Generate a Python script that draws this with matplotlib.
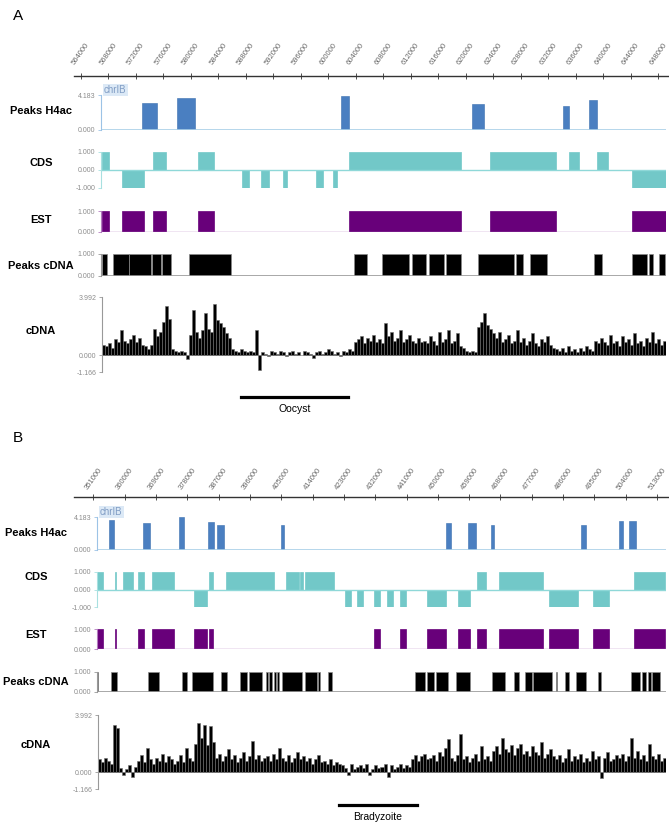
import matplotlib
matplotlib.use('Agg')
import matplotlib.pyplot as plt
import numpy as np
from matplotlib.lines import Line2D

plt.rcParams['font.family'] = ['Liberation Sans', 'DejaVu Sans']

W, H = 669, 826

# ---------------- panel A (oocyst locus) ----------------
a_ticks = list(range(564000, 648001, 4000))
a_h4ac = [(572900, 575150, 3.26), (578050, 580630, 3.79), (601830, 603090, 4.10),
          (620990, 622650, 3.07), (634230, 635060, 2.90), (637970, 639090, 3.59)]
a_cds_plus = [(567056, 568118), (574477, 576457), (581070, 583441), (603043, 619298),
              (623518, 633166), (635014, 636469), (639088, 640776)]
a_cds_minus = [(570010, 573255), (587429, 588491), (590237, 591445), (593395, 594064),
               (598197, 599260), (600758, 601340), (644225, 649171)]
a_est = [(567056, 568118), (570010, 573255), (574477, 576457), (581070, 583441),
         (603043, 619298), (623518, 633166), (644225, 649171)]
a_peaks_cdna = [(567056, 567784), (568744, 571029), (571029, 574186), (574332, 575685),
                (575831, 577184), (579803, 585872), (603814, 605706), (607802, 611818),
                (612254, 614204), (614685, 616911), (617202, 619298), (621771, 627010),
                (627389, 628320), (629382, 631900), (638739, 639903), (644182, 646408),
                (646655, 647325), (648154, 649071)]
a_cdna = [0.7, 0.6, 0.8, 0.5, 1.1, 0.9, 1.7, 1.0, 0.8, 1.1,
          1.4, 0.9, 1.2, 0.7, 0.6, 0.4, 0.7, 1.8, 1.3, 1.6,
          2.3, 3.4, 2.5, 0.4, 0.3, 0.2, 0.3, 0.2, -0.3, 1.4,
          3.1, 1.6, 1.2, 1.7, 2.9, 1.8, 1.6, 3.5, 2.4, 2.2,
          1.9, 1.5, 1.2, 0.4, 0.3, 0.2, 0.4, 0.3, 0.2, 0.3,
          0.2, 1.7, -1.0, 0.2, 0.1, -0.1, 0.3, 0.2, 0.1, 0.3,
          0.2, -0.1, 0.2, 0.3, 0.1, 0.2, 0.0, 0.3, 0.2, 0.1,
          -0.2, 0.2, 0.3, 0.1, 0.2, 0.4, 0.3, 0.1, 0.2, -0.1,
          0.3, 0.2, 0.4, 0.3, 0.9, 1.1, 1.3, 0.8, 1.2, 1.0,
          1.4, 0.9, 1.1, 0.8, 2.2, 1.3, 1.6, 1.0, 1.2, 1.7,
          0.9, 1.1, 1.4, 1.0, 0.8, 1.2, 0.9, 1.0, 0.8, 1.3,
          1.0, 0.7, 1.6, 0.9, 1.1, 1.7, 0.8, 1.0, 1.5, 0.6,
          0.5, 0.3, 0.2, 0.3, 0.2, 1.9, 2.3, 2.9, 2.1, 1.8,
          1.5, 1.2, 1.6, 0.9, 1.1, 1.4, 0.8, 1.0, 1.7, 0.9,
          1.2, 0.7, 1.0, 1.5, 0.8, 0.6, 1.1, 0.9, 1.3, 0.7,
          0.5, 0.4, 0.3, 0.5, 0.2, 0.6, 0.3, 0.4, 0.2, 0.5,
          0.3, 0.6, 0.4, 0.3, 1.0, 0.8, 1.2, 0.9, 0.7, 1.4,
          0.8, 1.0, 0.6, 1.3, 0.9, 1.1, 0.7, 1.5, 0.8, 1.0,
          0.6, 1.2, 0.9, 1.6, 0.8, 1.1, 0.7, 1.0]
a_stage = (587330, 602900, 'Oocyst')

# ---------------- panel B (bradyzoite locus) ----------------
b_ticks = list(range(351000, 513001, 9000))
b_h4ac = [(355396, 356976, 3.80), (365308, 367175, 3.38), (375564, 377173, 4.18),
          (383982, 385792, 3.59), (386568, 388579, 3.21), (404811, 405817, 3.21),
          (452359, 453882, 3.38), (458536, 460978, 3.38), (465202, 466150, 3.21),
          (491260, 492696, 3.21), (502120, 503269, 3.64), (504935, 506803, 3.64)]
b_cds_plus = [(351804, 353902), (357177, 357550), (359562, 362521), (363785, 365509),
              (367893, 374214), (384356, 385419), (389067, 402944), (406305, 410126),
              (410500, 411361), (411850, 420096), (461266, 463938), (467586, 480141),
              (506458, 515364)]
b_cds_minus = [(379960, 383609), (423342, 424980), (426876, 428600), (431588, 433398),
               (435409, 437219), (439144, 440954), (446901, 452359), (455721, 459168),
               (481951, 490197), (494679, 499103)]
b_est = [(351804, 353902), (357177, 357550), (363785, 365509), (367893, 374214),
         (379960, 383609), (384356, 385419), (431588, 433398), (439144, 440954),
         (446901, 452359), (455721, 459168), (461266, 463938), (467586, 480141),
         (481951, 490197), (494679, 499103), (506458, 515364)]
b_peaks_cdna = [(351804, 352465), (356114, 357838), (366658, 369991), (376598, 378035),
                (379299, 385332), (387803, 389441), (393176, 395273), (395675, 399496),
                (400559, 401134), (401594, 402283), (402858, 403432), (403806, 404294),
                (405156, 410902), (411764, 415212), (415671, 416160), (418544, 419608),
                (443453, 446326), (446987, 448998), (449486, 453020), (455232, 459255),
                (465490, 469310), (471810, 473246), (474970, 476981), (477268, 482899),
                (483962, 484250), (486548, 487611), (489622, 492668), (496029, 496891),
                (505510, 508096), (508584, 509819), (510308, 511170), (511543, 513842)]
b_cdna = [0.9, 0.7, 1.0, 0.8, 0.6, 3.3, 3.1, 0.3, -0.2, 0.2,
          0.5, -0.3, 0.4, 0.8, 1.2, 0.7, 1.7, 0.9, 0.6, 1.0,
          0.8, 1.3, 0.7, 1.1, 0.9, 0.6, 0.8, 1.2, 0.7, 1.7,
          1.0, 0.8, 2.0, 3.4, 2.4, 3.3, 1.9, 3.2, 2.1, 1.0,
          1.3, 0.8, 1.1, 1.6, 0.9, 1.2, 0.7, 1.0, 1.4, 0.8,
          1.1, 2.2, 0.9, 1.2, 0.8, 1.0, 1.1, 0.8, 1.3, 0.9,
          1.7, 1.0, 0.8, 1.2, 0.7, 1.0, 1.4, 0.9, 1.1, 0.8,
          1.0, 0.6, 0.9, 1.2, 0.7, 0.8, 0.6, 0.9, 0.5, 0.7,
          0.6, 0.5, 0.3, -0.2, 0.6, 0.2, 0.4, 0.5, 0.3, 0.6,
          -0.2, 0.2, 0.5, 0.3, 0.4, 0.6, -0.3, 0.5, 0.2, 0.4,
          0.6, 0.3, 0.5, 0.4, 0.9, 1.2, 0.8, 1.1, 1.3, 0.9,
          1.0, 1.2, 0.8, 1.4, 1.1, 1.7, 2.3, 1.0, 0.8, 1.2,
          2.7, 0.9, 1.1, 0.7, 1.0, 1.3, 0.8, 1.8, 0.9, 1.1,
          0.8, 1.5, 1.8, 1.3, 2.4, 1.6, 1.4, 1.9, 1.2, 1.7,
          2.0, 1.3, 1.5, 1.1, 1.8, 1.4, 1.2, 2.1, 1.0, 1.3,
          1.6, 1.1, 0.9, 1.2, 0.7, 1.0, 1.6, 0.8, 1.1, 0.9,
          1.3, 0.7, 1.0, 0.8, 1.5, 0.9, 1.1, -0.4, 1.0, 1.4,
          0.8, 0.9, 1.2, 1.0, 1.3, 0.8, 1.1, 2.4, 1.0, 1.5,
          0.9, 1.2, 0.8, 2.0, 1.1, 0.9, 1.3, 0.8, 1.0]
b_stage = (421620, 444030, 'Bradyzoite')

h4ac_max = 4.183
cdna_max = 3.992
cdna_min = -1.166

c_h4ac = '#4a7fc1'
c_cds = '#72c8c8'
c_est = '#68007a'

fig = plt.figure(figsize=(W / 100, H / 100), dpi=100)


def add_ax(x0, x1, ytop, ybot):
    ax = fig.add_axes([x0 / W, 1 - ybot / H, (x1 - x0) / W, (ybot - ytop) / H])
    ax.patch.set_alpha(0)
    return ax


def style_track(ax, xlim, ylo, yhi, ticks, spine_col):
    ax.set_xlim(*xlim)
    ax.set_ylim(ylo, yhi)
    for s in ['top', 'right', 'bottom']:
        ax.spines[s].set_visible(False)
    ax.spines['left'].set_color(spine_col)
    ax.spines['left'].set_linewidth(0.8)
    ax.set_xticks([])
    ax.set_yticks(ticks)
    ax.set_yticklabels(['%.3f' % t for t in ticks])
    ax.tick_params(axis='y', length=2.5, width=0.6, color=spine_col,
                   labelsize=5, labelcolor='#8c8c8c', pad=1.5)


def blocks(ax, spans, color, lo=0, hi=1, edge=None):
    st = np.array([s[0] for s in spans])
    en = np.array([s[1] for s in spans])
    ax.bar(st, hi - lo, width=en - st, bottom=lo, align='edge', color=color,
           edgecolor=edge if edge else color, linewidth=0.5)


def panel(letter, ly, px0, bp0, ppb, ticks, ruler_y, lab_dy, x0, tr,
          h4ac, cds_p, cds_m, est, pk, cdna, stage, lab_x, lab_y, stage_y):
    to_bp = lambda px: bp0 + (px - px0) / ppb
    to_px = lambda bp: px0 + (bp - bp0) * ppb
    xlim = (to_bp(x0), to_bp(666))

    fig.text(13 / W, 1 - ly / H, letter, fontsize=11, ha='left', va='center')

    # coordinate ruler
    rx0 = 74
    ax = add_ax(rx0, W, ruler_y - 30, ruler_y)
    ax.set_xlim(to_bp(rx0), to_bp(W))
    ax.set_ylim(0, 1)
    for s in ['top', 'right', 'left']:
        ax.spines[s].set_visible(False)
    ax.spines['bottom'].set_color('#333333')
    ax.spines['bottom'].set_linewidth(1.0)
    ax.set_yticks([])
    ax.set_xticks(ticks)
    ax.set_xticklabels([])
    ax.tick_params(axis='x', direction='inout', length=4, width=0.6, color='#333333')
    for t in ticks:
        ax.annotate(str(t), xy=(t, 0), xycoords=('data', 'axes fraction'),
                    xytext=(-4, lab_dy), textcoords='offset pixels', rotation=55,
                    ha='left', va='bottom', rotation_mode='anchor', fontsize=5.5,
                    color='#6a6a6a', annotation_clip=False)

    # Peaks H4ac
    ax = add_ax(x0, 666, *tr[0])
    style_track(ax, xlim, 0, h4ac_max, [0, h4ac_max], '#9cc3e6')
    ax.axhline(0, color='#a9cfe8', lw=1.2)
    st = np.array([h[0] for h in h4ac])
    en = np.array([h[1] for h in h4ac])
    ax.bar(st, [h[2] for h in h4ac], width=en - st, align='edge', color=c_h4ac,
           edgecolor='#3a6fb0', linewidth=0.4)
    fig.text((x0 + 3) / W, 1 - (tr[0][0] - 5) / H, 'chrIB', fontsize=7,
             color='#7f9cc4', ha='left', va='center',
             bbox=dict(boxstyle='square,pad=0.15', fc='#dce9f6', ec='none'))

    # CDS
    ax = add_ax(x0, 666, *tr[1])
    style_track(ax, xlim, -1, 1, [-1, 0, 1], '#a8e0e0')
    ax.axhline(0, color='#8fd8d8', lw=1.0)
    blocks(ax, cds_p, c_cds, 0, 1)
    blocks(ax, cds_m, c_cds, -1, 0)

    # EST
    ax = add_ax(x0, 666, *tr[2])
    style_track(ax, xlim, 0, 1, [0, 1], '#b47cc0')
    ax.axhline(0, color='#b47cc0', lw=1.0)
    blocks(ax, est, c_est)

    # Peaks cDNA
    ax = add_ax(x0, 666, *tr[3])
    style_track(ax, xlim, 0, 1, [0, 1], '#999999')
    ax.axhline(0, color='#999999', lw=1.2)
    blocks(ax, pk, 'black', edge='#8a8a8a')

    # cDNA signal
    ax = add_ax(x0 + 1, 666, *tr[4])
    style_track(ax, xlim, cdna_min, cdna_max, [cdna_min, 0, cdna_max], '#999999')
    edges = np.linspace(xlim[0], xlim[1], len(cdna) + 1)
    ax.bar(edges[:-1], cdna, width=np.diff(edges), align='edge', color='black',
           edgecolor='#6e6e6e', linewidth=0.4)

    # track labels
    names = ['Peaks H4ac', 'CDS', 'EST', 'Peaks cDNA', 'cDNA']
    for n, y in zip(names, lab_y):
        fig.text(lab_x / W, 1 - y / H, n, fontsize=8, fontweight='bold',
                 ha='center', va='center')

    # life-stage bar
    sx0, sx1 = to_px(stage[0]), to_px(stage[1])
    fig.add_artist(Line2D([sx0 / W, sx1 / W], [1 - stage_y / H] * 2,
                          color='black', lw=2.3))
    fig.text((sx0 + sx1) / 2 / W, 1 - (stage_y + 12) / H, stage[2],
             fontsize=7.5, ha='center', va='center')


panel('A', 16, 80.7, 564000, 27.49 / 4000, a_ticks, 76, 10, 101,
      [(95, 130), (152, 188), (211, 232), (254, 276), (297, 372)],
      a_h4ac, a_cds_plus, a_cds_minus, a_est, a_peaks_cdna, a_cdna, a_stage,
      41, [111, 163, 220, 266, 331], 397)

panel('B', 438, 93.2, 351000, 31.33 / 9000, b_ticks, 497, 6, 97,
      [(517, 550), (572, 607), (629, 649), (672, 692), (715, 789)],
      b_h4ac, b_cds_plus, b_cds_minus, b_est, b_peaks_cdna, b_cdna, b_stage,
      36, [533, 577, 635, 682, 745], 805)

fig.savefig('out.png', dpi=100)
